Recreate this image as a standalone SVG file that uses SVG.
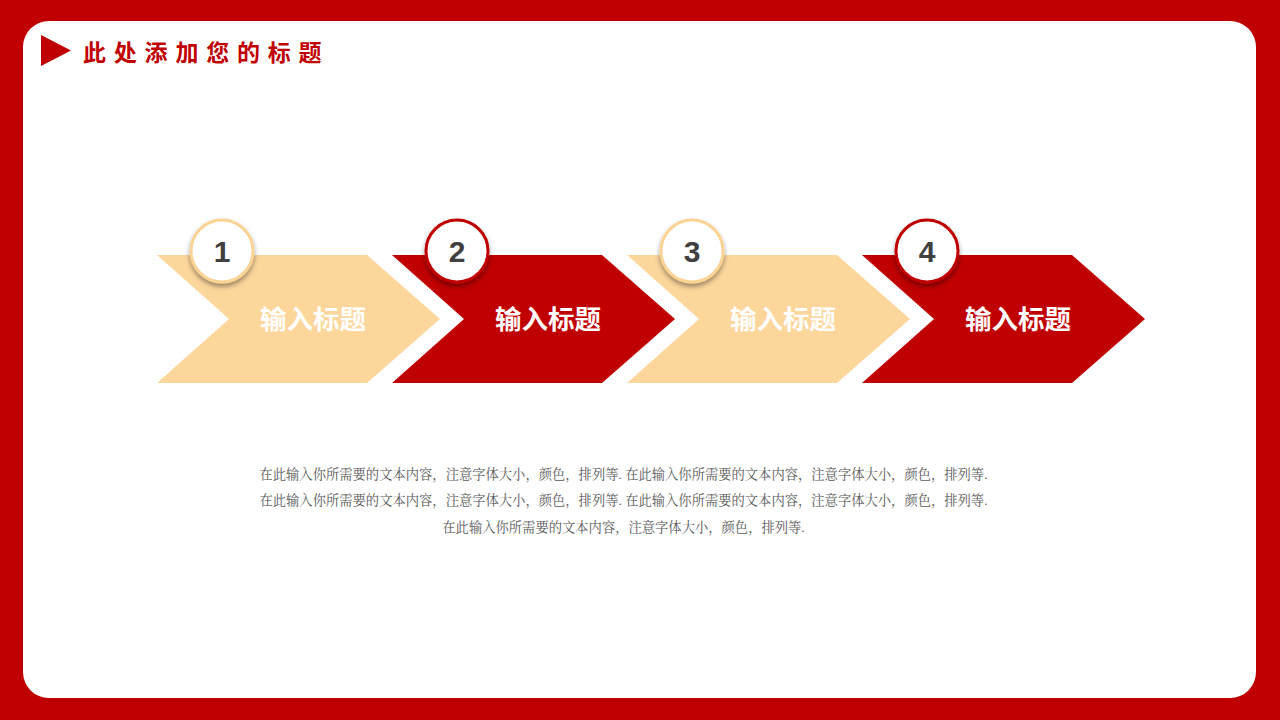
<svg xmlns="http://www.w3.org/2000/svg" width="1280" height="720" viewBox="0 0 1280 720">
<defs>
<style>
.light{fill:#fdd69c}
.red{fill:#c00000}
.lbl{font-family:"Noto Sans CJK SC",sans-serif;font-weight:bold;font-size:26.5px;fill:#ffffff;text-anchor:middle}
.num{font-family:"Liberation Sans","DejaVu Sans",sans-serif;font-weight:bold;font-size:30px;fill:#404040;text-anchor:middle}
.body{font-family:"Liberation Serif","Noto Serif CJK SC","Noto Sans CJK SC",serif;font-size:13.3px;fill:#595959;text-anchor:middle}
.cl{fill:#ffffff;stroke:#fbd394;stroke-width:3}
.cr{fill:#ffffff;stroke:#c00000;stroke-width:3}
</style>
<filter id="sh" x="-30%" y="-30%" width="160%" height="170%">
<feDropShadow dx="0" dy="3" stdDeviation="2.5" flood-color="#000" flood-opacity="0.4"/>
</filter>
<polygon id="chev" points="0,0 210,0 283,64 210,128 0,128 72,64"/>
</defs>
<rect width="1280" height="720" fill="#c00000"/>
<rect x="23" y="21" width="1233" height="677" rx="26" fill="#ffffff"/>
<g id="title">
<polygon points="41,35 41,66 71,50.5" fill="#c00000"/>
<text x="83" y="61" font-family="Noto Sans CJK SC,sans-serif" font-weight="bold" font-size="23" letter-spacing="7.8" fill="#c00000">此处添加您的标题</text>
</g>
<g id="step1">
<use href="#chev" x="157" y="255" class="light"/>
<circle cx="222" cy="251" r="31" class="cl" filter="url(#sh)"/>
<text x="222" y="262" class="num">1</text>
<text x="313" y="329" class="lbl">输入标题</text>
</g>
<g id="step2">
<use href="#chev" x="392" y="255" class="red"/>
<circle cx="457" cy="251" r="31" class="cr" filter="url(#sh)"/>
<text x="457" y="262" class="num">2</text>
<text x="548" y="329" class="lbl">输入标题</text>
</g>
<g id="step3">
<use href="#chev" x="627" y="255" class="light"/>
<circle cx="692" cy="251" r="31" class="cl" filter="url(#sh)"/>
<text x="692" y="262" class="num">3</text>
<text x="783" y="329" class="lbl">输入标题</text>
</g>
<g id="step4">
<use href="#chev" x="862" y="255" class="red"/>
<circle cx="927" cy="251" r="31" class="cr" filter="url(#sh)"/>
<text x="927" y="262" class="num">4</text>
<text x="1018" y="329" class="lbl">输入标题</text>
</g>
<g id="connectors"></g>
<g id="body">
<text x="623.5" y="479" class="body">在此输入你所需要的文本内容，注意字体大小，颜色，排列等. 在此输入你所需要的文本内容，注意字体大小，颜色，排列等.</text>
<text x="623.5" y="505" class="body">在此输入你所需要的文本内容，注意字体大小，颜色，排列等. 在此输入你所需要的文本内容，注意字体大小，颜色，排列等.</text>
<text x="623.5" y="532" class="body">在此输入你所需要的文本内容，注意字体大小，颜色，排列等.</text>
</g>
</svg>
